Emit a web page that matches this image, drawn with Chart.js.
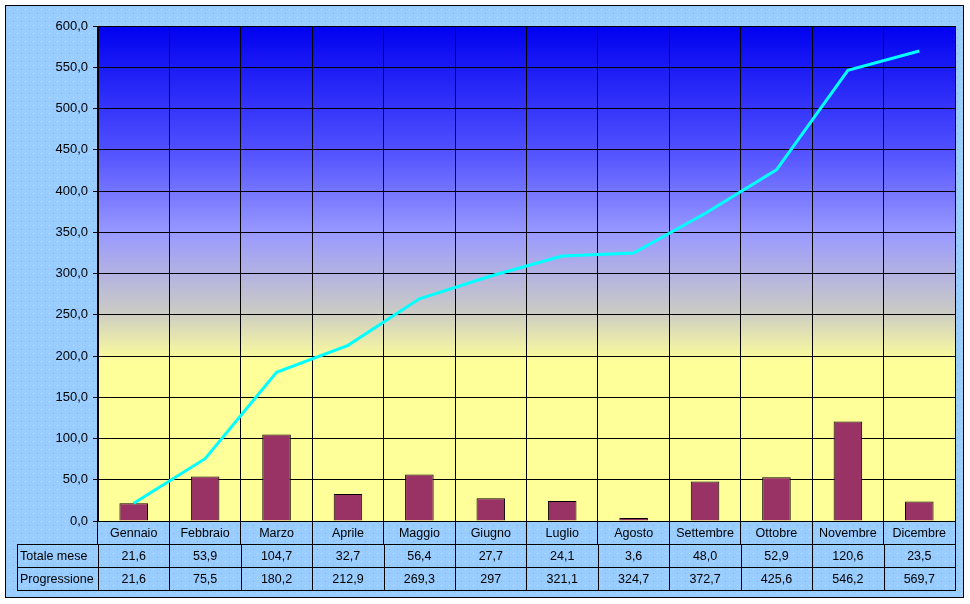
<!DOCTYPE html>
<html>
<head>
<meta charset="utf-8">
<script src="https://cdn.jsdelivr.net/npm/chart.js@4.4.1/dist/chart.umd.min.js"></script>
<style>
  html, body { margin: 0; padding: 0; background: #fff; }
  #wrap { width: 970px; height: 604px; }
</style>
</head>
<body>
<div id="wrap"><canvas id="grafico" width="970" height="604"></canvas></div>
<script>
// dati
var mesi = ['Gennaio', 'Febbraio', 'Marzo', 'Aprile', 'Maggio', 'Giugno',
            'Luglio', 'Agosto', 'Settembre', 'Ottobre', 'Novembre', 'Dicembre'];
var totaleMese = [21.6, 53.9, 104.7, 32.7, 56.4, 27.7, 24.1, 3.6, 48.0, 52.9, 120.6, 23.5];
var progressione = [21.6, 75.5, 180.2, 212.9, 269.3, 297, 321.1, 324.7, 372.7, 425.6, 546.2, 569.7];
var righeTabella = ['Totale mese', 'Progressione'];
var yMin = 0, yMax = 600, yPasso = 50;

var FONT = '"Liberation Sans", Arial, sans-serif';

function virgola(v, dec) {
  var s = dec === undefined ? String(v) : v.toFixed(dec);
  return s.replace('.', ',');
}

// sfondo azzurro puntinato + gradiente dell'area del grafico
function motivo(ctx) {
  var c = document.createElement('canvas');
  c.width = 8; c.height = 8;
  var g = c.getContext('2d');
  g.fillStyle = '#99CCFF';
  g.fillRect(0, 0, 8, 8);
  g.fillStyle = '#C8E2FF';
  g.fillRect(1, 1, 1, 1);
  g.fillStyle = '#88AAFF';
  g.fillRect(5, 5, 1, 1);
  return ctx.createPattern(c, 'repeat');
}

var sfondo = {
  id: 'sfondo',
  beforeDraw: function(chart) {
    var ctx = chart.ctx, a = chart.chartArea;
    ctx.save();
    ctx.fillStyle = '#fff';
    ctx.fillRect(0, 0, chart.width, chart.height);
    ctx.fillStyle = motivo(ctx);
    ctx.fillRect(5, 5, 959, 593);
    ctx.strokeStyle = '#000';
    ctx.lineWidth = 1;
    ctx.strokeRect(5.5, 5.5, 958, 592);

    var gr = ctx.createLinearGradient(0, a.top, 0, a.bottom);
    gr.addColorStop(0, '#0000F0');
    gr.addColorStop(0.25, '#5050FF');
    gr.addColorStop(0.42, '#9A9AFF');
    gr.addColorStop(0.57, '#C8C8C8');
    gr.addColorStop(0.68, '#FFFF99');
    gr.addColorStop(1, '#FFFF99');
    ctx.fillStyle = gr;
    ctx.fillRect(a.left, a.top, a.right - a.left, a.bottom - a.top);
    ctx.restore();
  }
};

// tabella dati sotto l'asse
var tabella = {
  id: 'tabella',
  afterDraw: function(chart) {
    var ctx = chart.ctx, a = chart.chartArea, sx = chart.scales.x;
    var n = mesi.length;
    var h = 23;
    var top = a.bottom + h;
    var left = 17;
    var bordi = [];
    for (var i = 0; i < n; i++) {
      var c = sx.getPixelForValue(i);
      var w = i < n - 1 ? sx.getPixelForValue(i + 1) - c : c - sx.getPixelForValue(i - 1);
      bordi.push(c - w / 2);
      if (i === n - 1) bordi.push(c + w / 2);
    }
    ctx.save();
    ctx.strokeStyle = '#000';
    ctx.lineWidth = 1;
    ctx.beginPath();
    for (var r = 0; r <= righeTabella.length; r++) {
      var yy = Math.round(top + r * h) + 0.5;
      ctx.moveTo(left, yy);
      ctx.lineTo(Math.round(a.right) + 1, yy);
    }
    var fondo = Math.round(top + righeTabella.length * h) + 0.5;
    ctx.moveTo(left + 0.5, Math.round(top));
    ctx.lineTo(left + 0.5, fondo);
    bordi.forEach(function(b) {
      var bx = Math.round(b) + 0.5;
      ctx.moveTo(bx, Math.round(top));
      ctx.lineTo(bx, fondo);
    });
    ctx.stroke();

    ctx.fillStyle = '#000';
    ctx.font = '12.5px ' + FONT;
    ctx.textBaseline = 'middle';
    ctx.textAlign = 'center';
    mesi.forEach(function(m, i) {
      ctx.fillText(m, sx.getPixelForValue(i), a.bottom + h / 2 + 1);
      ctx.fillText(virgola(totaleMese[i], 1), sx.getPixelForValue(i), top + h / 2 + 1);
      ctx.fillText(virgola(progressione[i]), sx.getPixelForValue(i), top + h * 1.5 + 1);
    });
    ctx.textAlign = 'left';
    righeTabella.forEach(function(t, r) {
      ctx.fillText(t, left + 3, top + h * r + h / 2 + 1);
    });
    ctx.restore();
  }
};

new Chart(document.getElementById('grafico').getContext('2d'), {
  data: {
    labels: mesi,
    datasets: [
      {
        type: 'line',
        label: 'Progressione',
        data: progressione,
        borderColor: '#00FFFF',
        borderWidth: 3,
        pointRadius: 0,
        tension: 0,
        order: 0
      },
      {
        type: 'bar',
        label: 'Totale mese',
        data: totaleMese,
        backgroundColor: '#993366',
        borderColor: '#000',
        borderWidth: 1,
        categoryPercentage: 1,
        barPercentage: 0.4,
        order: 1
      }
    ]
  },
  options: {
    responsive: false,
    animation: false,
    devicePixelRatio: 1,
    layout: { padding: { top: 26, right: 15, left: 0, bottom: 0 } },
    plugins: {
      legend: { display: false },
      tooltip: { enabled: false }
    },
    scales: {
      x: {
        offset: true,
        grid: { offset: true, color: '#000', tickLength: 23, drawTicks: true },
        border: { color: '#000' },
        ticks: { display: false },
        afterFit: function(s) { s.height = 83; }
      },
      y: {
        min: yMin,
        max: yMax,
        grid: { color: '#000', tickLength: 5 },
        border: { color: '#000' },
        ticks: {
          stepSize: yPasso,
          padding: 5,
          color: '#000',
          font: { family: FONT, size: 13 },
          callback: function(v) { return virgola(v, 1); }
        },
        afterFit: function(s) { s.width = 98; }
      }
    }
  },
  plugins: [sfondo, tabella]
});
</script>
</body>
</html>
